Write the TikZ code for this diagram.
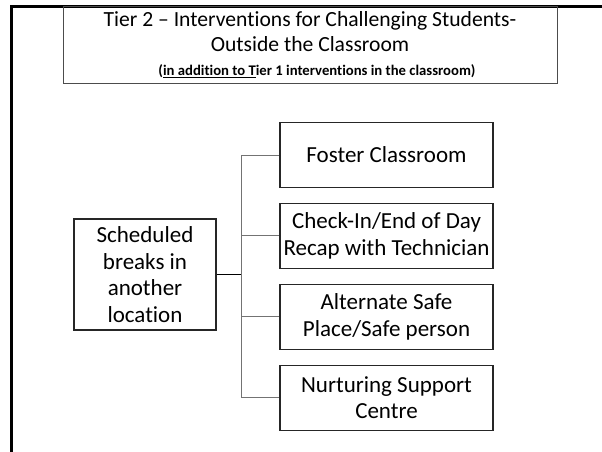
\documentclass[tikz,border=0pt]{standalone}
\usepackage{fontspec}
\setmainfont{Carlito}[Ligatures=NoCommon]
\usepackage{tikz}

\begin{document}
\begin{tikzpicture}[x=1pt, y=-1pt,
        box/.style = {draw=black!85, line width=1.1pt, minimum width=213pt, minimum height=65pt, inner sep=1pt, align=center, font=\fontsize{23}{26.5}\selectfont},
        title/.style = {draw=black!70, line width=1pt, minimum width=494pt, minimum height=76pt, inner sep=0pt, align=center, font=\fontsize{21.6}{24.5}\selectfont},
        link/.style = {draw=black!55, line width=1pt}]
        \useasboundingbox (0,0) rectangle (602,452);
        \fill[white] (0,0) rectangle (602,452);
        \draw[line width=3pt] (11.5,452) -- (11.5,7) -- (602,7);
        \node [title] (head) at (310,45) {Tier 2 -- Interventions for Challenging Students-\\Outside the Classroom\\{\fontsize{14.7}{24.5}\selectfont\bfseries\hspace*{14pt}(\underline{in addition to T}ier 1 interventions in the classroom)}};
        \node [box, minimum width=142pt, minimum height=111pt] (breaks) at (145,274.5) {Scheduled\\breaks in\\another\\location};
        \node [box] (foster) at (386.5,155) {Foster Classroom};
        \node [box] (checkin) at (386.5,235.8) {Check-In/End of Day\\Recap with Technician};
        \node [box] (safe) at (386.5,316.8) {Alternate Safe\\Place/Safe person};
        \node [box] (nurture) at (386.5,397.7) {Nurturing Support\\Centre};
        \coordinate (spine) at (241,274.5);
        \draw[link] (spine |- foster.west) -- (spine |- nurture.west);
        \foreach \n in {foster, checkin, safe, nurture}
            \draw[link] (spine |- \n.west) -- (\n.west);
        \draw[line width=1.5pt] (breaks.east) -- (spine);
\end{tikzpicture}
\end{document}
